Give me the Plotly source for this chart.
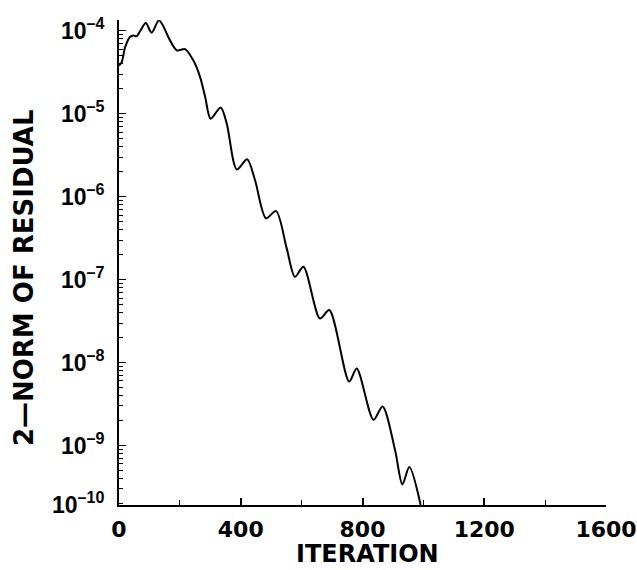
import math
import plotly.graph_objects as go

iteration = [0, 9, 20, 36, 47, 58, 70, 88, 107, 131, 145, 162, 190, 217, 244, 266, 283,
             301, 334, 354, 387, 421, 447, 483, 516, 551, 578, 606, 660, 691, 756, 781,
             836, 866, 907, 931, 954, 991]
residual = [3.8e-5, 4.2e-5, 6.3e-5, 8.4e-5, 8.8e-5, 8.6e-5, 1.0e-4, 1.24e-4, 9.5e-5,
            1.34e-4, 1.15e-4, 8.4e-5, 5.8e-5, 6.0e-5, 4.4e-5, 2.8e-5, 1.6e-5,
            8.7e-6, 1.19e-5, 7.6e-6, 2.13e-6, 2.83e-6, 1.58e-6, 5.5e-7, 6.7e-7, 2.38e-7,
            1.08e-7, 1.43e-7, 3.4e-8, 4.3e-8, 5.9e-9, 8.5e-9, 2.04e-9, 2.95e-9, 8.8e-10,
            3.4e-10, 5.5e-10, 1.92e-10]

x_ticks = [0, 400, 800, 1200, 1600]
x_minor = [200, 600, 1000, 1400]
y_tick_vals = [1e-4, 1e-5, 1e-6, 1e-7, 1e-8, 1e-9, 1.92e-10]
y_exponents = ["–4", "–5", "–6", "–7", "–8", "–9", "–10"]

Y_LO = -9.717      # log10 of the value at the bottom axis
Y_HI = -3.87       # log10 top of the data area
ARIAL = "Liberation Sans, Arial, Helvetica, sans-serif"
DEJAVU = "DejaVu Sans, Liberation Sans, sans-serif"

y_tick_text = ["10<sup style='font-size:19px'>%s</sup>" % e for e in y_exponents]
y_minor_vals = [m * 10.0 ** e for e in range(-10, -4) for m in range(2, 10)
                if Y_LO < math.log10(m * 10.0 ** e) < -4.0]

fig = go.Figure()
fig.add_trace(go.Scatter(x=iteration, y=residual, mode="lines",
                         line=dict(color="black", width=2, shape="spline", smoothing=0.8),
                         showlegend=False))

fig.update_layout(
    width=637, height=570,
    margin=dict(l=119, r=31, t=20, b=65),
    paper_bgcolor="white", plot_bgcolor="white",
    font=dict(family=ARIAL, color="black", size=21, weight=700),
    xaxis=dict(range=[0, 1600], tickvals=x_ticks, ticktext=[str(v) for v in x_ticks],
               ticks="inside", ticklen=7, tickwidth=1.5, tickcolor="black",
               showline=True, linecolor="black", linewidth=2, showgrid=False, zeroline=False,
               minor=dict(tickvals=x_minor, ticks="inside", ticklen=5,
                          tickwidth=1.2, tickcolor="black", showgrid=False),
               tickfont=dict(family=DEJAVU, size=22, weight=700), ticklabelstandoff=4,
               automargin=False),
    yaxis=dict(type="log", range=[Y_LO, Y_HI], autorange=False,
               tickvals=y_tick_vals, ticktext=y_tick_text,
               ticks="inside", ticklen=7, tickwidth=1.2, tickcolor="black",
               showline=True, linecolor="black", linewidth=2,
               showgrid=False, zeroline=False, automargin=False,
               minor=dict(tickvals=y_minor_vals, ticks="inside", ticklen=4,
                          tickwidth=1, tickcolor="black", showgrid=False),
               tickfont=dict(family=ARIAL, size=23, weight=700), ticklabelstandoff=8),
)

fig.add_annotation(text="2—NORM OF RESIDUAL", textangle=-90, showarrow=False,
                   xref="paper", yref="paper", x=(24 - 119) / 485, y=(505 - 277.5) / 485,
                   xanchor="center", yanchor="middle",
                   font=dict(family=DEJAVU, size=26, weight=700, color="black"))
fig.add_annotation(text="ITERATION", showarrow=False,
                   xref="paper", yref="paper", x=(367 - 119) / 487, y=(505 - 554) / 485,
                   xanchor="center", yanchor="middle",
                   font=dict(family=DEJAVU, size=24, weight=700, color="black"))

fig.write_html("out.html")
